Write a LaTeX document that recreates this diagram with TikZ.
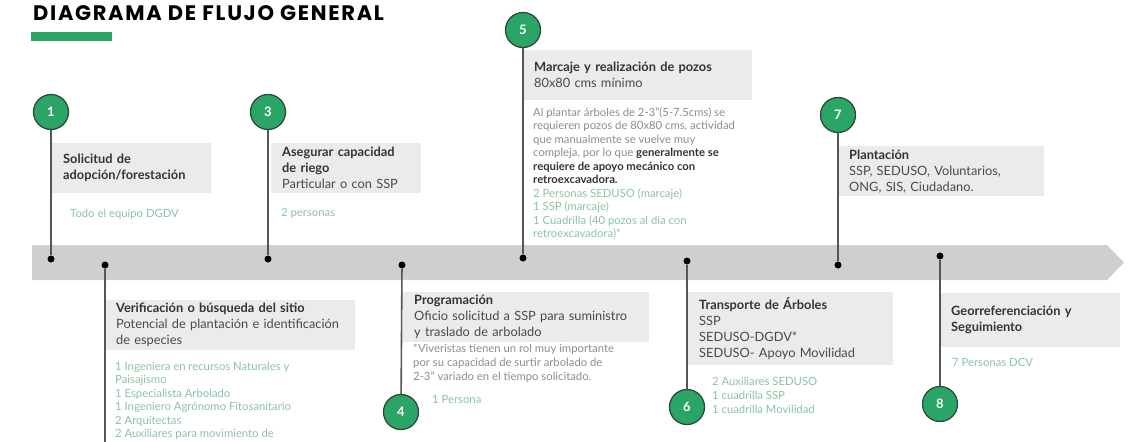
\documentclass[tikz,border=0pt]{standalone}
\usepackage{fontspec}
\setmainfont{Lato}
\newfontfamily\titlefont[LetterSpace=8]{Poppins}

\definecolor{stepgreen}{HTML}{2BA566}
\definecolor{circline}{HTML}{2E4A3B}
\definecolor{bandgray}{HTML}{CFCFCF}
\definecolor{boxgray}{HTML}{EBEBEB}
\definecolor{stemgray}{HTML}{555555}
\definecolor{darktext}{HTML}{333333}
\definecolor{subtext}{HTML}{4A4A44}
\definecolor{teamgreen}{HTML}{8AC2A3}
\definecolor{notegray}{HTML}{8C8C8C}

\begin{document}
\begin{tikzpicture}[x=1pt,y=-1pt,
  numcirc/.style={circle,draw=circline,line width=1.3pt,fill=stepgreen,minimum size=35pt,inner sep=0pt,text=white,font=\bfseries\fontsize{13}{13}\selectfont},
  tdot/.style={circle,fill=black,inner sep=0pt,minimum size=7pt},
  stem/.style={draw=stemgray,line width=1.6pt},
  stepbox/.style={fill=boxgray,anchor=north west,inner xsep=11pt,inner ysep=0pt,align=left,text=subtext,font=\fontsize{12.8}{16}\selectfont},
  team/.style={anchor=west,inner sep=0pt,text=teamgreen,font=\fontsize{11.3}{13.5}\selectfont},
  note/.style={anchor=north west,inner sep=0pt,align=left,text=notegray,font=\fontsize{11.3}{13.5}\selectfont}]
\useasboundingbox (0,0) rectangle (1144,442);

% title
\node[anchor=base west,inner sep=0pt,font=\titlefont\bfseries\fontsize{21}{21}\selectfont] (title) at (33,20) {DIAGRAMA DE FLUJO GENERAL};
\fill[stepgreen] (31,32) rectangle (112,41);

% time band
\fill[bandgray] (32,245) -- (1107,245) -- (1124,262.5) -- (1107,280) -- (32,280) -- cycle;

% boxes above
\node[stepbox,minimum height=50pt,text width=137pt] (b1) at (52,143) {{\bfseries\color{darktext}Solicitud de\\adopción/forestación}};
\node[stepbox,minimum height=50pt,text width=128pt] (b3) at (271,143) {{\bfseries\color{darktext}Asegurar capacidad}\\{\bfseries\color{darktext}de riego}\\Particular o con SSP};
\node[stepbox,minimum height=50pt,text width=207pt] (b5) at (523,50) {{\bfseries\color{darktext}Marcaje y realización de pozos}\\80x80 cms mínimo};
\node[stepbox,minimum height=50pt,text width=184pt] (b7) at (838,146) {{\bfseries\color{darktext}Plantación}\\SSP, SEDUSO, Voluntarios,\\ONG, SIS, Ciudadano.};

% boxes below
\node[stepbox,minimum height=50pt,text width=228pt] (b2) at (105,300) {{\bfseries\color{darktext}Verificación o búsqueda del sitio}\\Potencial de plantación e identificación\\de especies};
\node[stepbox,minimum height=50pt,text width=224pt] (b4) at (403,292) {{\bfseries\color{darktext}Programación}\\Oficio solicitud a SSP para suministro\\y traslado de arbolado};
\node[stepbox,minimum height=73pt,text width=183pt] (b6) at (688,292) {{\bfseries\color{darktext}Transporte de Árboles}\\SSP\\SEDUSO-DGDV*\\SEDUSO- Apoyo Movilidad};
\node[stepbox,minimum height=54pt,text width=158pt] (b8) at (940,293) {{\bfseries\color{darktext}Georreferenciación y}\\{\bfseries\color{darktext}Seguimiento}};

% teams and notes
\node[team] (t1) at (70,214) {Todo el equipo DGDV};
\node[team] (t3) at (281,213) {2 personas};
\node[note] (t5) at (533,107.5) {Al plantar árboles de 2-3"(5-7.5cms) se\\requieren pozos de 80x80 cms, actividad\\que manualmente se vuelve muy\\compleja, por lo que {\bfseries\color{darktext}generalmente se}\\{\bfseries\color{darktext}requiere de apoyo mecánico con}\\{\bfseries\color{darktext}retroexcavadora.}\\{\color{teamgreen}2 Personas SEDUSO (marcaje)}\\{\color{teamgreen}1 SSP (marcaje)}\\{\color{teamgreen}1 Cuadrilla (40 pozos al dia con}\\{\color{teamgreen}retroexcavadora)*}};
\node[team] (t7) at (952,362) {7 Personas DCV};
\node[note,text=teamgreen] (t2) at (115,361.5) {1 Ingeniera en recursos Naturales y\\Paisajismo\\1 Especialista Arbolado\\1 Ingeniero Agrónomo Fitosanitario\\2 Arquitectas\\2 Auxiliares para movimiento de};
\node[note,font=\fontsize{11.3}{14}\selectfont] (n4) at (413,343.5) {*Viveristas tienen un rol muy importante\\por su capacidad de surtir arbolado de\\2-3" variado en el tiempo solicitado.};
\node[team] (t4) at (432,399) {1 Persona};
\node[note,text=teamgreen,font=\fontsize{11.3}{14}\selectfont] (t6) at (712,376.5) {2 Auxiliares SEDUSO\\1 cuadrilla SSP\\1 cuadrilla Movilidad};

% dots on the band
\foreach \n/\x/\y in {1/51/259,2/105/265,3/268/259,4/402/265,5/523/258,6/687/261,7/838/265,8/940/256}
{
    \node[tdot] (d\n) at (\x,\y) {};
}
\coordinate (e2) at (105,442);
\draw[stem] (d2) -- (e2);

% numbered steps
\foreach \n/\x/\y in {1/51/112,3/268/112,5/523/30,7/838/115,4/401/412,6/687/407,8/940/404}
{
    \node[numcirc] (c\n) at (\x,\y) {\n};
    \draw[stem] (c\n) -- (d\n);
}

\end{tikzpicture}
\end{document}
